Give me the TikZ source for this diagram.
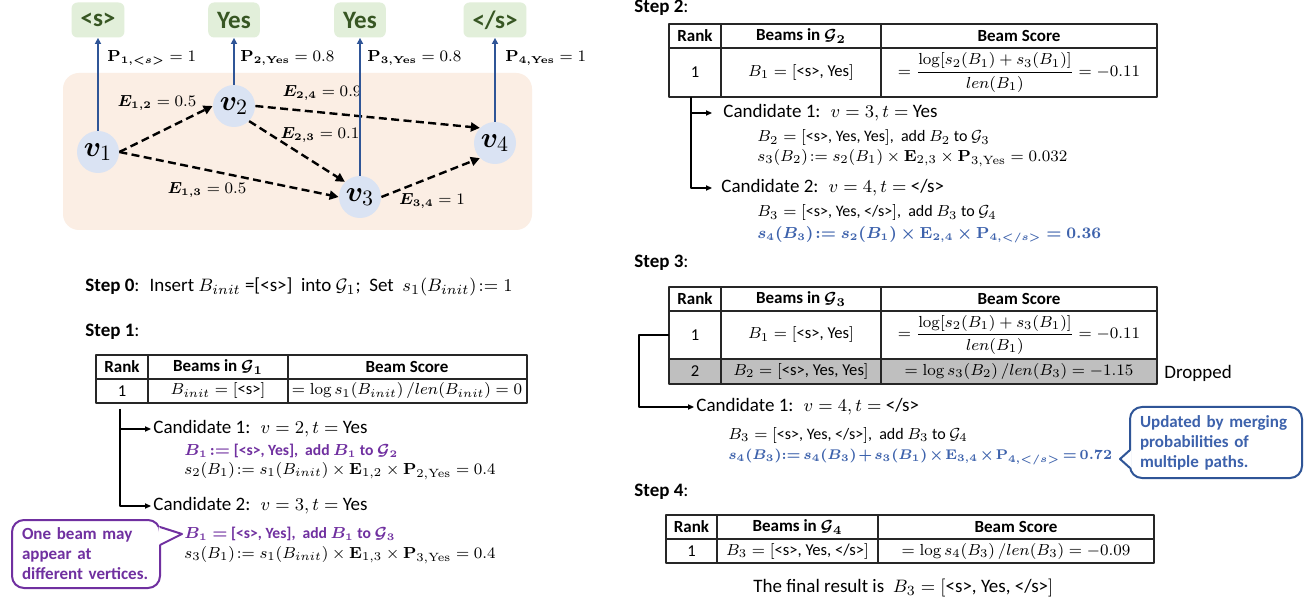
\documentclass[tikz,border=0pt]{standalone}
\usepackage{amsmath}
\usepackage{bm}
\usepackage[no-math]{fontspec}
\setmainfont{Carlito}
\usetikzlibrary{arrows.meta,positioning}

\definecolor{peach}{RGB}{251,238,228}
\definecolor{tokfill}{RGB}{226,239,218}
\definecolor{tokgreen}{RGB}{55,86,35}
\definecolor{vfill}{RGB}{218,227,243}
\definecolor{pblue}{RGB}{47,85,151}
\definecolor{sblue}{RGB}{61,98,172}
\definecolor{mypurple}{RGB}{112,48,160}
\definecolor{dropgray}{RGB}{191,191,191}

\tikzset{
  token/.style={fill=tokfill, rounded corners=3pt, minimum height=17.5pt, inner xsep=4.5pt,
    text=tokgreen, font=\fontsize{12.5}{14}\selectfont\bfseries},
  vert/.style={circle, fill=vfill, minimum size=21pt, inner sep=0pt, font=\fontsize{15}{17}\selectfont},
  edge/.style={line width=1.2pt, dash pattern=on 4pt off 2.2pt, -{Triangle[length=4.5pt,width=4.5pt]}},
  prob/.style={pblue, line width=1pt, -{Triangle[length=3pt,width=3pt]}},
  lbl/.style={inner sep=0pt, font=\fontsize{7.6}{9}\selectfont},
  steplbl/.style={anchor=west, inner sep=0pt, font=\fontsize{9.5}{11.5}\selectfont},
  cand/.style={anchor=west, inner sep=1pt, font=\fontsize{9.5}{11.5}\selectfont},
  detail/.style={anchor=west, inner sep=0pt, font=\fontsize{8}{9.6}\selectfont},
  boldline/.style={detail, font=\fontsize{7.8}{9.4}\selectfont\bfseries},
  tabline/.style={line width=0.8pt, draw=black!85},
  hd/.style={inner sep=0pt, font=\fontsize{8.5}{10}\selectfont\bfseries},
  cell/.style={inner sep=0pt, font=\fontsize{8.3}{10}\selectfont},
  tree/.style={line width=0.6pt, -{Triangle[length=3pt,width=2.6pt]}},
  note/.style={line width=1pt, fill=white, rounded corners=6pt, align=left, inner xsep=5pt,
    font=\fontsize{8.5}{10}\selectfont\bfseries}
}

\begin{document}
\begin{tikzpicture}[x=0.5pt, y=-0.5pt, line join=round]
    % 0. 画布
    \fill[white] (0,0) rectangle (1310,603);
    \useasboundingbox (0,0) rectangle (1310,603);

    % 1. 图：背景、顶点与词元
    \fill[peach, rounded corners=8pt] (63,73) rectangle (532,230);
    \node[vert] (v1) at (98,152) {$\bm{v}_1$};
    \node[vert] (v2) at (234,106) {$\bm{v}_2$};
    \node[vert] (v3) at (360,197) {$\bm{v}_3$};
    \node[vert] (v4) at (495,143) {$\bm{v}_4$};
    \node[token] (w1) at (98,20) {<s>};
    \node[token] (w2) at (234,20) {Yes};
    \node[token] (w3) at (360,20) {Yes};
    \node[token] (w4) at (495,20) {</s>};

    % 2. 虚线边及权重
    \draw[edge] (v1.east) -- (v2.west);
    \draw[edge] (v1.east) -- (v3.west);
    \draw[edge] (v2.south east) -- (v3.north west);
    \draw[edge] (v2.east) -- (v4.north west);
    \draw[edge] (v3.east) -- (v4.south west);
    \node[lbl] (e12) at (157,103) {$\bm{E_{1,2}} = 0.5$};
    \node[lbl] (e24) at (322,93) {$\bm{E_{2,4}} = 0.9$};
    \node[lbl] (e23) at (320,135) {$\bm{E_{2,3}} = 0.1$};
    \node[lbl] (e13) at (207,190) {$\bm{E_{1,3}} = 0.5$};
    \node[lbl] (e34) at (432,201) {$\bm{E_{3,4}} = 1$};

    % 3. 输出概率
    \draw[prob] (v1.north) -- (w1.south);
    \draw[prob] (v2.north) -- (w2.south);
    \draw[prob] (v3.north) -- (w3.south);
    \draw[prob] (v4.north) -- (w4.south);
    \node[lbl, anchor=west] (p1) at (107,58) {$\bm{\mathrm{P}_{1,{<}s{>}}} = 1$};
    \node[lbl, anchor=west] (p2) at (240,58) {$\bm{\mathrm{P}_{2,\mathrm{Yes}}} = 0.8$};
    \node[lbl, anchor=west] (p3) at (367,58) {$\bm{\mathrm{P}_{3,\mathrm{Yes}}} = 0.8$};
    \node[lbl, anchor=west] (p4) at (505,58) {$\bm{\mathrm{P}_{4,\mathrm{Yes}}} = 1$};

    % 4. Step 0 与 Step 1
    \node[steplbl] (s0) at (85,287) {\textbf{Step 0}:~ Insert $B_{init}$ =[<s>]~ into $\mathcal{G}_1$;~ Set~ $s_1(B_{init})\!:= 1$};
    \node[steplbl] (s1) at (85,332) {\textbf{Step 1}:};
    \draw[tabline] (96,355) rectangle (527,403);
    \draw[tabline] (96,379) -- (527,379) (148,355) -- (148,403) (288,355) -- (288,403);
    \node[hd] (t1a) at (122,367) {Rank};
    \node[hd] (t1b) at (218,367) {Beams in $\bm{\mathcal{G}_1}$};
    \node[hd] (t1c) at (407,367) {Beam Score};
    \node[cell] (t1d) at (122,391) {1};
    \node[cell] (t1e) at (218,391) {$B_{init} = [$<s>$]$};
    \node[cell] (t1f) at (407,391) {$= \log s_1(B_{init})\,/len(B_{init}) = 0$};

    \coordinate (r1) at (120,409);
    \node[cand] (c11) at (151,429) {Candidate 1:~ $v = 2, t =$ Yes};
    \node[boldline, text=mypurple] (d11) at (184,451)
      {$\bm{B_1\!:=}$ [<s>, Yes],~ add $\bm{B_1}$ to $\bm{\mathcal{G}_2}$};
    \node[detail] (d12) at (184,471) {$s_2(B_1)\!:= s_1(B_{init}) \times \mathbf{E}_{1,2} \times \mathbf{P}_{2,\mathrm{Yes}} = 0.4$};
    \node[cand] (c12) at (151,506) {Candidate 2:~ $v = 3, t =$ Yes};
    \node[boldline, text=mypurple] (d13) at (184,534)
      {$\bm{B_1 =}$ [<s>, Yes],~ add $\bm{B_1}$ to $\bm{\mathcal{G}_3}$};
    \node[detail] (d14) at (184,555) {$s_3(B_1)\!:= s_1(B_{init}) \times \mathbf{E}_{1,3} \times \mathbf{P}_{3,\mathrm{Yes}} = 0.4$};
    \draw[tree] (r1) |- (c11.west);
    \draw[tree] (r1) |- (c12.west);

    % 说明框（紫色）
    \node[note, draw=mypurple, text=mypurple, minimum width=74pt, minimum height=34pt, text width=64pt]
      (n1) at (86,554) {One beam may\\appear at\\different vertices.};
    \coordinate (n1tip) at (182,534);
    \fill[white] (158.5,527) -- (n1tip) -- (158.5,545) -- cycle;
    \draw[mypurple, line width=1pt] (160,527) -- (n1tip) -- (160,545);

    % 5. Step 2
    \node[steplbl] (s2) at (634,8) {\textbf{Step 2}:};
    \draw[tabline] (669,24) rectangle (1157,97);
    \draw[tabline] (669,48) -- (1157,48) (721,24) -- (721,97) (881,24) -- (881,97);
    \node[hd] (t2a) at (695,36) {Rank};
    \node[hd] (t2b) at (801,36) {Beams in $\bm{\mathcal{G}_2}$};
    \node[hd] (t2c) at (1019,36) {Beam Score};
    \node[cell] (t2d) at (695,72.5) {1};
    \node[cell] (t2e) at (801,72.5) {$B_1 = [$<s>, Yes$]$};
    \node[cell] (t2f) at (1019,72.5) {$= \dfrac{\log[s_2(B_1) + s_3(B_1)]}{len(B_1)} = -0.11$};

    \coordinate (r2) at (691,97);
    \node[cand] (c21) at (721,113) {Candidate 1:~ $v = 3, t =$ Yes};
    \node[detail] (d21) at (757,138) {$B_2 = [$<s>, Yes, Yes$]$,~ add $B_2$ to $\mathcal{G}_3$};
    \node[detail] (d22) at (757,158) {$s_3(B_2)\!:= s_2(B_1) \times \mathbf{E}_{2,3} \times \mathbf{P}_{3,\mathrm{Yes}} = 0.032$};
    \node[cand] (c22) at (719,188) {Candidate 2:~ $v = 4, t =$ </s>};
    \node[detail] (d23) at (757,213) {$B_3 = [$<s>, Yes, </s>$]$,~ add $B_3$ to $\mathcal{G}_4$};
    \node[boldline, text=sblue] (d24) at (757,235)
      {$\bm{s_4(B_3)\!:= s_2(B_1) \times \mathrm{E}_{2,4} \times \mathrm{P}_{4,{<}/s{>}} = 0.36}$};
    \draw[tree, shorten >=4.5pt] (r2) |- (c21.west);
    \draw[tree, shorten >=3.5pt] (r2) |- (c22.west);

    % 6. Step 3
    \node[steplbl] (s3) at (634,263) {\textbf{Step 3}:};
    \fill[dropgray] (669,359) rectangle (1157,384);
    \draw[tabline] (669,287) rectangle (1157,384);
    \draw[tabline] (669,311) -- (1157,311) (669,359) -- (1157,359) (721,287) -- (721,384) (881,287) -- (881,384);
    \node[hd] (t3a) at (695,299) {Rank};
    \node[hd] (t3b) at (801,299) {Beams in $\bm{\mathcal{G}_3}$};
    \node[hd] (t3c) at (1019,299) {Beam Score};
    \node[cell] (t3d) at (695,335) {1};
    \node[cell] (t3e) at (801,335) {$B_1 = [$<s>, Yes$]$};
    \node[cell] (t3f) at (1019,335) {$= \dfrac{\log[s_2(B_1) + s_3(B_1)]}{len(B_1)} = -0.11$};
    \node[cell] (t3g) at (695,371.5) {2};
    \node[cell] (t3h) at (801,371.5) {$B_2 = [$<s>, Yes, Yes$]$};
    \node[cell] (t3i) at (1019,371.5) {$= \log s_3(B_2)\,/len(B_3) = -1.15$};
    \node[steplbl] (drop) at (1164,373) {Dropped};

    \coordinate (r3) at (669,335);
    \node[cand] (c31) at (694,407) {Candidate 1:~ $v = 4, t =$ </s>};
    \node[detail] (d31) at (728,435) {$B_3 = [$<s>, Yes, </s>$]$,~ add $B_3$ to $\mathcal{G}_4$};
    \node[boldline, text=sblue, font=\fontsize{6.8}{9}\selectfont\bfseries] (d32) at (728,457)
      {\medmuskip=2mu \thickmuskip=3mu
       $\bm{s_4(B_3)\!:= s_4(B_3) + s_3(B_1) \times \mathrm{E}_{3,4} \times \mathrm{P}_{4,{<}/s{>}} = 0.72}$};
    \draw[tree] (r3) -- ++(-30,0) |- (c31.west);

    % 说明框（蓝色）
    \node[note, draw=pblue, text=sblue, minimum width=86pt, minimum height=35.5pt, text width=76pt]
      (n2) at (1216,442.5) {Updated by merging\\probabilities of\\multiple paths.};
    \coordinate (n2tip) at (1120,459);
    \fill[white] (1131.5,450) -- (n2tip) -- (1131.5,468) -- cycle;
    \draw[pblue, line width=1pt] (1130,450) -- (n2tip) -- (1130,468);

    % 7. Step 4
    \node[steplbl] (s4) at (634,492) {\textbf{Step 4}:};
    \draw[tabline] (666,515) rectangle (1154,563);
    \draw[tabline] (666,539) -- (1154,539) (717,515) -- (717,563) (878,515) -- (878,563);
    \node[hd] (t4a) at (691.5,527) {Rank};
    \node[hd] (t4b) at (797.5,527) {Beams in $\bm{\mathcal{G}_4}$};
    \node[hd] (t4c) at (1016,527) {Beam Score};
    \node[cell] (t4d) at (691.5,551) {1};
    \node[cell] (t4e) at (797.5,551) {$B_3 = [$<s>, Yes, </s>$]$};
    \node[cell] (t4f) at (1016,551) {$= \log s_4(B_3)\,/len(B_3) = -0.09$};
    \node[steplbl] (fin) at (753,588) {The final result is~ $B_3 = [$<s>, Yes, </s>$]$};

\end{tikzpicture}
\end{document}
